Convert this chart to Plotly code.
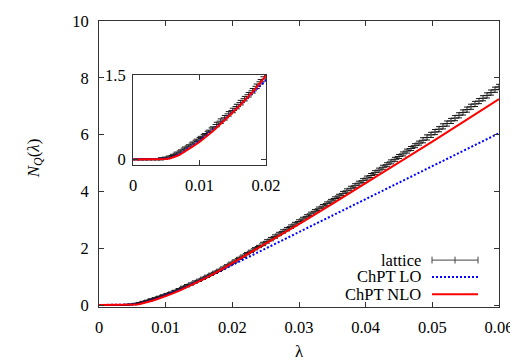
import plotly.graph_objects as go

# lattice data (lambda, N_Q, error)
lat_x = [0.0006, 0.0012, 0.0018, 0.0024, 0.0030, 0.0036, 0.0042, 0.0048, 0.0054, 0.0060,
         0.0066, 0.0072, 0.0078, 0.0084, 0.0090, 0.0096, 0.0102, 0.0108, 0.0114, 0.0120,
         0.0126, 0.0132, 0.0138, 0.0144, 0.0150, 0.0156, 0.0162, 0.0168, 0.0174, 0.0180,
         0.0186, 0.0192, 0.0198, 0.0204, 0.0210, 0.0216, 0.0222, 0.0228, 0.0234, 0.0240,
         0.0246, 0.0252, 0.0258, 0.0264, 0.0270, 0.0276, 0.0282, 0.0288, 0.0294, 0.0300,
         0.0306, 0.0312, 0.0318, 0.0324, 0.0330, 0.0336, 0.0342, 0.0348, 0.0354, 0.0360,
         0.0366, 0.0372, 0.0378, 0.0384, 0.0390, 0.0396, 0.0402, 0.0408, 0.0414, 0.0420,
         0.0426, 0.0432, 0.0438, 0.0444, 0.0450, 0.0456, 0.0462, 0.0468, 0.0474, 0.0480,
         0.0486, 0.0492, 0.0498, 0.0504, 0.0510, 0.0516, 0.0522, 0.0528, 0.0534, 0.0540,
         0.0546, 0.0552, 0.0558, 0.0564, 0.0570, 0.0576, 0.0582, 0.0588, 0.0594, 0.0600]
lat_y = [0.00, 0.00, 0.00, 0.00, 0.00, 0.00, 0.01, 0.02, 0.04, 0.07,
         0.11, 0.15, 0.20, 0.24, 0.29, 0.34, 0.39, 0.44, 0.50, 0.56,
         0.62, 0.68, 0.74, 0.81, 0.87, 0.94, 1.01, 1.08, 1.15, 1.22,
         1.30, 1.38, 1.47, 1.55, 1.64, 1.72, 1.81, 1.89, 1.98, 2.06,
         2.15, 2.24, 2.32, 2.41, 2.50, 2.59, 2.67, 2.76, 2.85, 2.94,
         3.03, 3.12, 3.21, 3.30, 3.39, 3.48, 3.57, 3.66, 3.75, 3.84,
         3.93, 4.02, 4.11, 4.20, 4.29, 4.38, 4.47, 4.56, 4.66, 4.75,
         4.85, 4.94, 5.04, 5.13, 5.23, 5.32, 5.42, 5.51, 5.61, 5.70,
         5.80, 5.90, 5.99, 6.09, 6.19, 6.29, 6.39, 6.48, 6.58, 6.68,
         6.78, 6.88, 6.98, 7.08, 7.18, 7.28, 7.38, 7.48, 7.58, 7.68]
lat_err = [0.01, 0.01, 0.01, 0.01, 0.01, 0.01, 0.02, 0.02, 0.02, 0.02,
           0.02, 0.02, 0.02, 0.02, 0.02, 0.02, 0.02, 0.02, 0.02, 0.02,
           0.04, 0.04, 0.04, 0.04, 0.04, 0.04, 0.04, 0.04, 0.04, 0.04,
           0.04, 0.04, 0.04, 0.04, 0.04, 0.04, 0.04, 0.04, 0.04, 0.04,
           0.06, 0.06, 0.06, 0.06, 0.06, 0.06, 0.06, 0.06, 0.06, 0.06,
           0.06, 0.06, 0.06, 0.06, 0.06, 0.06, 0.06, 0.06, 0.06, 0.06,
           0.07, 0.07, 0.07, 0.07, 0.07, 0.07, 0.07, 0.07, 0.07, 0.07,
           0.07, 0.07, 0.07, 0.07, 0.07, 0.07, 0.07, 0.07, 0.07, 0.07,
           0.09, 0.09, 0.09, 0.09, 0.09, 0.09, 0.09, 0.09, 0.09, 0.09,
           0.09, 0.09, 0.09, 0.09, 0.09, 0.09, 0.09, 0.09, 0.09, 0.09]

# ChPT curves
chpt_x = [0.0, 0.001, 0.002, 0.003, 0.004, 0.005, 0.0055, 0.006, 0.0065, 0.007, 0.0075, 0.008,
          0.009, 0.010, 0.011, 0.012, 0.013, 0.014, 0.015, 0.016, 0.018, 0.020, 0.022, 0.025,
          0.028, 0.030, 0.035, 0.040, 0.045, 0.050, 0.055, 0.060]
lo_y = [0, 0, 0, 0, 0, 0.01, 0.02, 0.04, 0.065, 0.095, 0.13, 0.165,
        0.245, 0.33, 0.42, 0.52, 0.62, 0.73, 0.84, 0.95, 1.18, 1.41, 1.64, 1.99,
        2.34, 2.57, 3.15, 3.73, 4.31, 4.89, 5.47, 6.05]
nlo_y = [0, 0, 0, 0, 0, 0.005, 0.015, 0.03, 0.055, 0.08, 0.115, 0.15,
         0.23, 0.31, 0.40, 0.50, 0.61, 0.72, 0.84, 0.95, 1.20, 1.47, 1.74, 2.15,
         2.57, 2.85, 3.56, 4.28, 5.01, 5.75, 6.50, 7.25]

legend_names = ['lattice', 'ChPT LO', 'ChPT NLO']

FONT = 'Liberation Serif'
AXC = '#333333'
LAT = '#1a1a1a'


def add_set(fig, xa, ya):
    fig.add_trace(go.Scatter(x=lat_x, y=lat_y, mode='markers', xaxis=xa, yaxis=ya,
                             error_y=dict(type='data', array=lat_err, color=LAT,
                                          thickness=1, width=3),
                             marker=dict(symbol='line-ew-open', size=6, color=LAT,
                                         line=dict(color=LAT, width=1)),
                             showlegend=False))
    fig.add_trace(go.Scatter(x=chpt_x, y=lo_y, mode='lines', xaxis=xa, yaxis=ya,
                             line=dict(color='#0000ff', width=2, dash='2px,2px'),
                             showlegend=False))
    fig.add_trace(go.Scatter(x=chpt_x, y=nlo_y, mode='lines', xaxis=xa, yaxis=ya,
                             line=dict(color='#ff0000', width=2),
                             showlegend=False))


fig = go.Figure()
add_set(fig, 'x', 'y')
add_set(fig, 'x2', 'y2')

axis_common = dict(showgrid=False, zeroline=False, showline=True, linecolor=AXC, linewidth=1,
                   mirror='ticks', ticks='inside', ticklen=5, tickcolor=AXC, tickwidth=1,
                   tickfont=dict(family=FONT, size=16.5, color='#000000'))

# the page body adds an 8px margin, so the figure is 8px smaller than the window
fig.update_layout(
    template='none',
    width=510, height=355,
    margin=dict(l=91, r=19, t=13, b=56),
    paper_bgcolor='white', plot_bgcolor='white',
    font=dict(family=FONT, size=17, color='#000000'),
    xaxis=dict(range=[0, 0.06], tickvals=[0, 0.01, 0.02, 0.03, 0.04, 0.05, 0.06],
               ticktext=['0', '0.01', '0.02', '0.03', '0.04', '0.05', '0.06'],
               ticklabelstandoff=5, **axis_common),
    yaxis=dict(range=[-0.07, 10], tickvals=[0, 2, 4, 6, 8, 10], ticklabelstandoff=6,
               **axis_common),
    xaxis2=dict(domain=[0.085, 0.4175], anchor='y2', range=[0, 0.02],
                tickvals=[0, 0.01, 0.02], ticktext=['0', '0.01', '0.02'],
                ticklabelstandoff=5, **axis_common),
    yaxis2=dict(domain=[0.4965, 0.811], anchor='x2', range=[-0.1, 1.5],
                tickvals=[0, 1.5], ticktext=['0', '1.5'], ticklabelstandoff=3,
                **axis_common),
    showlegend=False,
)

# axis titles
fig.add_annotation(text='λ', xref='paper', yref='paper', x=0.5, y=-0.155,
                   showarrow=False, font=dict(family=FONT, size=17), yanchor='middle')
fig.add_annotation(text='<i>N<sub>Q</sub></i>(<i>λ</i>)', xref='paper', yref='paper',
                   x=-0.16, y=0.52, textangle=-90, showarrow=False,
                   font=dict(family=FONT, size=17), xanchor='center', yanchor='middle')

# gnuplot-style key: text on the left, sample on the right
key_y = [0.164, 0.105, 0.045]
for name, ky in zip(legend_names, key_y):
    fig.add_annotation(text=name, xref='paper', yref='paper', x=0.807, y=ky,
                       xanchor='right', yanchor='middle', showarrow=False, borderpad=0,
                       font=dict(family=FONT, size=16.5))
x0, x1 = 0.8325, 0.9475
fig.add_shape(type='line', xref='paper', yref='paper', x0=x0, x1=x1, y0=key_y[0], y1=key_y[0],
              line=dict(color='#444444', width=1))
for xx in (x0, (x0 + x1) / 2, x1):
    fig.add_shape(type='line', xref='paper', yref='paper', x0=xx, x1=xx,
                  y0=key_y[0] - 0.012, y1=key_y[0] + 0.012, line=dict(color='#444444', width=1))
fig.add_shape(type='line', xref='paper', yref='paper', x0=x0, x1=x1, y0=key_y[1], y1=key_y[1],
              line=dict(color='#0000ff', width=2, dash='2px,2px'))
fig.add_shape(type='line', xref='paper', yref='paper', x0=x0, x1=x1, y0=key_y[2], y1=key_y[2],
              line=dict(color='#ff0000', width=2))

fig.write_html("out.html")
